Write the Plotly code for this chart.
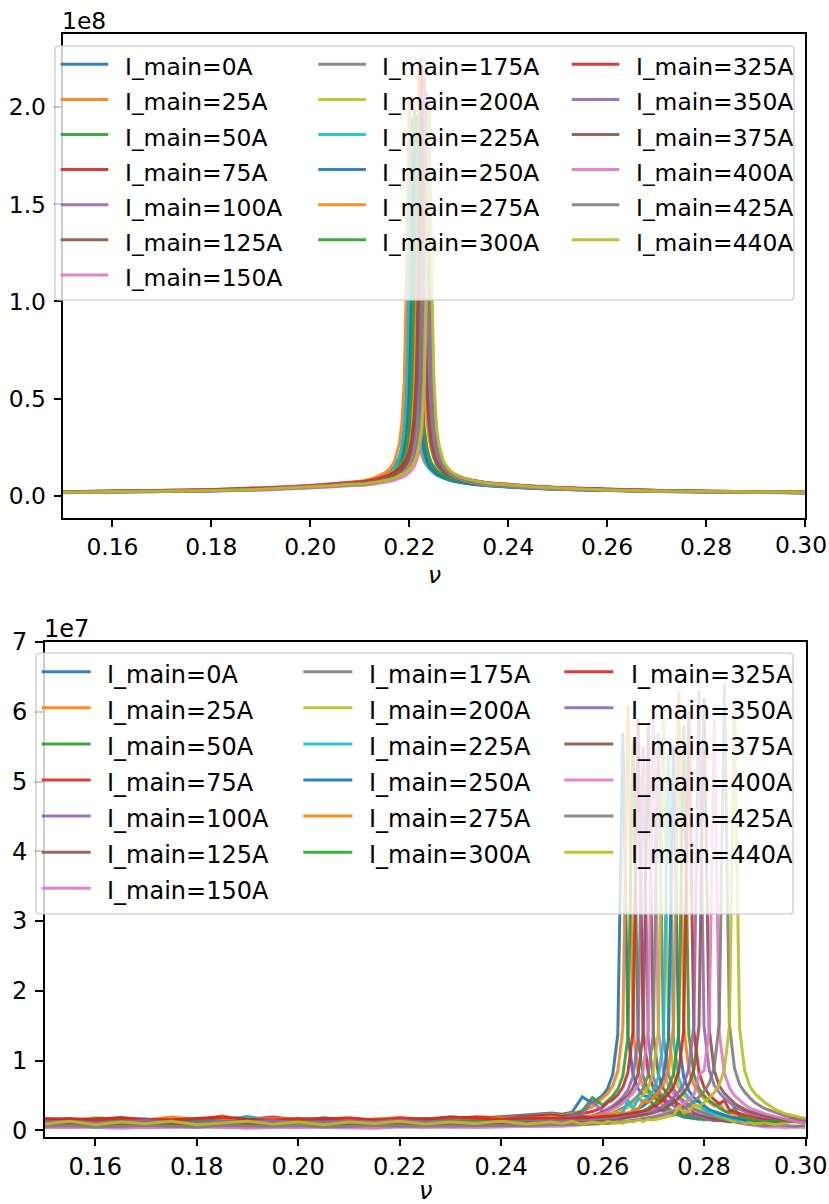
import plotly.graph_objects as go

# ---------------- data ----------------
CURRENTS = [0, 25, 50, 75, 100, 125, 150, 175, 200, 225, 250, 275, 300, 325, 350, 375, 400, 425, 440]
LABELS = [f"I_main={c}A" for c in CURRENTS]

# top panel: tune axis nu and spectrum amplitude (units of 1e6)
TOP_NU = [0.150, 0.160, 0.170, 0.180, 0.190, 0.195, 0.200, 0.204, 0.208, 0.211, 0.213, 0.215,
          0.216, 0.217, 0.218, 0.2185, 0.219, 0.2195, 0.2200, 0.2205, 0.2210, 0.2215, 0.2220,
          0.2225, 0.2230, 0.2235, 0.2240, 0.2245, 0.2250, 0.2255, 0.226, 0.227, 0.228, 0.229,
          0.231, 0.233, 0.236, 0.240, 0.245, 0.250, 0.260, 0.270, 0.280, 0.290, 0.300]

TOP_I0 = [1.7,1.9,2.2,2.6,3.3,3.9,4.4,5.1,6.0, 7.1,8.3,10.3,11.9,14.6,19.9,25,35,56, 112,194,112,56,35,25,19.9,16.5,14.6,13.1,11.9,11.0, 10.3,9.2,8.3,7.7,6.7,6.0,5.2,4.6,3.9,3.3, 2.7,2.2,1.9,1.7,1.6]
TOP_I25 = [1.8,2.1,2.4,2.8,3.5,4.1,4.7,5.4,6.5, 7.8,9.2,11.6,13.8,17.4,26.7,37,59,118, 205,118,59,37,26.7,21,17.4,15.4,13.8,12.6,11.6,10.9, 10.3,9.2,8.4,7.8,6.9,6.2,5.4,4.7,4.1,3.5, 2.9,2.4,2.1,1.8,1.6]
TOP_I50 = [1.8,2.0,2.3,2.7,3.4,3.9,4.5,5.2,6.1, 7.1,8.2,10.0,11.3,13.5,17,20.5,26,36, 58,115,200,115,58,36,26,20.5,17,15,13.5,12.3, 11.3,10.0,9.0,8.2,7.1,6.3,5.5,4.8,4.1,3.5, 2.8,2.3,2.0,1.8,1.6]
TOP_I75 = [1.9,2.1,2.4,2.9,3.5,4.2,4.8,5.5,6.4, 6.8,7.6,8.8,9.7,10.8,12.1,13.2,14.5,16.1, 18.3,22,28,39,62,124,215,124,62,39,28,22, 18.3,14.5,12.1,10.8,8.8,7.6,6.5,5.5,4.7,4.0, 3.1,2.5,2.2,1.9,1.7]
TOP_I100 = [1.8,2.0,2.3,2.8,3.4,4.0,4.6,5.3,6.1, 6.4,7.2,8.2,8.9,9.9,11.0,11.8,12.8,14.0, 15.6,17.7,21.3,27,37,60,120,208,120,60,37,27, 21.3,15.6,12.8,11.0,8.9,7.6,6.4,5.4,4.6,4.0, 3.0,2.4,2.1,1.9,1.7]
TOP_I125 = [1.7,1.9,2.2,2.6,3.1,3.7,4.2,4.9,5.7, 6.2,7.0,8.2,9.0,10.1,11.7,12.8,14.3,16.2, 19.5,24.7,34,55,109,190,109,55,34,24.7,19.5,16.2, 14.3,11.7,10.1,9.0,7.5,6.6,5.6,4.8,4.1,3.5, 2.7,2.2,1.9,1.7,1.5]
TOP_I150 = [2.0,2.3,2.6,3.1,3.8,4.5,5.1,5.9,6.9, 7.3,8.3,9.7,10.7,12.0,13.9,15.3,17.0,19.2, 23.2,29,41,66,130,226,130,66,41,29,23.2,19.2, 17.0,13.9,12.0,10.7,8.9,7.8,6.6,5.7,4.9,4.2, 3.2,2.6,2.3,2.0,1.8]
TOP_I175 = [1.7,1.8,2.1,2.5,3.1,3.6,4.2,4.8,5.6, 6.4,7.3,8.8,9.8,11.4,13.9,15.7,19.0,24, 33,54,106,185,106,54,33,24,19.0,15.7,13.9,12.5, 11.4,9.8,8.8,8.0,6.8,6.0,5.2,4.5,3.9,3.3, 2.6,2.1,1.8,1.7,1.5]
TOP_I200 = [1.8,2.0,2.3,2.7,3.3,3.9,4.5,5.1,6.0, 6.3,7.1,8.2,9.0,10.0,11.3,12.3,13.5,15, 17,20.5,26,36,58,115,200,115,58,36,26,20.5, 17,13.5,11.3,10.0,8.2,7.1,6.0,5.1,4.4,3.75, 2.9,2.4,2.0,1.8,1.6]
TOP_I225 = [1.7,1.9,2.2,2.5,3.2,3.7,4.3,4.9,5.8, 6.9,8.1,10.0,11.6,14.1,19.3,24.4,34,55, 108,188,108,55,34,24.4,19.3,16.0,14.1,12.7,11.6,10.6, 10.0,8.9,8.1,7.4,6.5,5.8,5.1,4.4,3.8,3.2, 2.6,2.2,1.9,1.7,1.5]
TOP_I250 = [1.6,1.8,2.1,2.4,3.1,3.5,4.1,4.7,5.5, 6.4,7.4,9.0,10.2,12.2,15.3,18.5,23.4,32, 52,104,180,104,52,32,23.4,18.5,15.3,13.5,12.2,11.1, 10.2,9.0,8.1,7.4,6.4,5.7,5.0,4.3,3.7,3.2, 2.5,2.1,1.8,1.6,1.4]
TOP_I275 = [2.0,2.2,2.6,3.0,3.7,4.4,5.1,5.8,6.8, 7.5,8.5,10.1,11.2,12.7,15.1,16.8,19.0,23.0, 29,40,65,129,224,129,65,40,29,23.0,19.0,16.8, 15.1,12.7,11.2,10.1,8.5,7.5,6.4,5.5,4.8,4.0, 3.1,2.6,2.2,2.0,1.8]
TOP_I300 = [1.8,2.0,2.3,2.6,3.3,3.9,4.4,5.1,6.0, 6.8,7.7,9.3,10.4,12.1,14.7,16.7,20.1,25.5, 35,57,113,196,113,57,35,25.5,20.1,16.7,14.7,13.2, 12.1,10.4,9.3,8.4,7.2,6.4,5.5,4.8,4.1,3.5, 2.7,2.3,2.0,1.8,1.6]
TOP_I325 = [2.0,2.2,2.6,3.0,3.7,4.4,5.0,5.8,6.8, 7.2,8.2,9.5,10.5,11.8,13.7,15.0,16.7,18.9, 22.8,28.9,40,64,128,222,128,64,40,28.9,22.8,18.9, 16.7,13.7,11.8,10.5,8.8,7.7,6.5,5.6,4.8,4.1, 3.2,2.6,2.2,2.0,1.8]
TOP_I350 = [1.9,2.1,2.4,2.8,3.5,4.1,4.7,5.4,6.3, 6.6,7.5,8.6,9.5,10.5,11.9,12.9,14.2,15.8, 17.9,21.5,27.3,38,61,121,210,121,61,38,27.3,21.5, 17.9,14.2,11.9,10.5,8.6,7.5,6.3,5.4,4.6,3.9, 3.0,2.5,2.1,1.9,1.7]
TOP_I375 = [1.8,2.0,2.3,2.7,3.3,3.9,4.5,5.1,6.0, 6.4,7.3,8.5,9.4,10.5,12.2,13.4,14.9,16.8, 20.3,25.7,36,57,114,198,114,57,36,25.7,20.3,16.8, 14.9,12.2,10.5,9.4,7.8,6.8,5.8,5.0,4.3,3.7, 2.8,2.3,2.0,1.8,1.6]
TOP_I400 = [1.5,1.7,1.9,2.3,2.8,3.3,3.9,4.4,5.0, 5.3,5.9,6.7,7.2,7.9,8.8,9.3,9.9,10.8, 11.9,13.2,15.0,18.0,22.9,32,51,101,176,101,51,32, 22.9,15.0,11.9,9.9,7.9,6.7,5.5,4.7,4.0,3.4, 2.6,2.1,1.8,1.6,1.4]
TOP_I425 = [1.6,1.8,2.1,2.5,3.1,3.6,4.2,4.8,5.5, 5.8,6.6,7.5,8.2,9.0,10.1,10.7,11.7,12.8, 14.3,16.2,19.5,24.7,34,55,109,190,109,55,34,24.7, 19.5,14.3,11.7,10.1,8.2,7.0,5.8,4.9,4.2,3.6, 2.8,2.3,2.0,1.7,1.5]
TOP_I440 = [1.7,1.9,2.2,2.6,3.2,3.8,4.4,5.0,5.8, 6.1,6.8,7.7,8.3,9.1,10.1,10.7,11.4,12.4, 13.6,15.2,17.2,20.7,26.3,36,59,116,202,116,59,36, 26.3,17.2,13.6,11.4,9.1,7.7,6.4,5.4,4.5,3.9, 2.9,2.4,2.1,1.8,1.7]

# bottom panel: tune axis nu and spectrum amplitude (units of 1e6)
BOT_NU = [0.150, 0.155, 0.160, 0.165, 0.170, 0.175, 0.180, 0.185, 0.190, 0.195, 0.200, 0.205,
          0.210, 0.215, 0.220, 0.225, 0.230, 0.235, 0.240, 0.245, 0.250, 0.252, 0.254, 0.256,
          0.258, 0.260, 0.261, 0.262, 0.263, 0.264, 0.265, 0.266, 0.267, 0.268, 0.269, 0.270,
          0.271, 0.272, 0.273, 0.274, 0.275, 0.276, 0.277, 0.278, 0.279, 0.280, 0.281, 0.282,
          0.283, 0.284, 0.285, 0.286, 0.287, 0.288, 0.289, 0.290, 0.292, 0.294, 0.296, 0.298, 0.300]

BOT_I0 = [1.3,1.6,1.2,1.5,1.4,1.7,1.3,1.5,1.6,1.2,1.4,1.8,1.5,1.4,1.6,1.5,1.9,1.7,2.0,2.2,2.5, 2.3,2.6,4.8,3.9,5.0, 6.0,8.0,13.7,57,13.6,8.0,6.0,5.0,4.8,3.6, 3.2,2.8,2.7,2.3,2.2,1.9,1.8,1.7,1.6,1.8, 1.5,1.6,1.4,1.7,1.5,1.3,1.6,1.4,1.5, 1.3,1.6,1.4,1.5,1.3,1.4]
BOT_I25 = [1.6,1.4,1.8,1.5,1.3,1.6,1.5,2.1,1.4,1.6,1.5,1.7,1.3,1.6,1.8,1.4,1.7,1.9,1.8,2.1,2.3, 2.1,2.4,2.8,3.4,4.6, 5.3,6.4,8.5,14.6,61,14.4,8.4,6.3,5.3,4.5, 4.8,3.4,3.0,2.7,2.4,2.6,2.1,2.0,1.8,1.8, 1.6,1.5,1.8,1.6,1.4,1.7,1.5,1.6,1.4, 1.5,1.7,1.4,1.6,1.5,1.3]
BOT_I50 = [1.4,1.3,1.7,1.5,1.6,1.2,1.4,1.5,1.9,1.3,1.5,1.4,1.6,1.3,1.5,1.7,1.4,1.6,1.8,1.9,2.1, 2.0,2.2,2.8,4.7,3.6, 4.2,4.9,5.9,7.8,13.4,56,13.2,7.7,5.8,4.9, 4.2,4.4,3.1,2.7,2.5,2.2,2.0,1.9,1.7,1.5, 1.7,1.4,1.6,1.5,1.3,1.6,1.4,1.5,1.7, 1.4,1.5,1.3,1.6,1.4,1.5]
BOT_I75 = [1.7,1.5,1.6,1.8,1.4,1.6,1.7,1.5,1.6,1.9,1.5,1.7,1.6,1.4,1.8,1.6,1.7,1.9,1.8,2.0,2.2, 2.0,2.1,2.4,2.7,3.3, 4.0,4.4,5.1,6.2,8.3,14.2,59,14.0,8.2,6.1, 5.1,4.4,3.8,4.5,2.9,2.6,2.4,2.2,2.0,1.9, 1.7,1.8,1.6,1.5,1.7,1.6,1.8,1.5,1.6, 1.7,1.5,1.6,1.4,1.7,1.6]
BOT_I100 = [1.2,1.4,1.3,1.1,1.5,1.3,1.2,1.4,1.3,1.5,1.2,1.3,1.4,1.6,1.3,1.2,1.4,1.5,1.6,1.7,1.9, 1.8,2.0,2.3,4.2,2.7, 3.1,3.5,4.1,4.8,5.8,7.7,13.2,55,13.0,7.6, 5.7,4.7,4.1,3.5,3.1,3.8,2.4,2.2,2.0,1.8, 1.6,1.4,1.5,1.3,1.4,1.2,1.5,1.3,1.4, 1.2,1.3,1.5,1.2,1.3,1.4]
BOT_I125 = [1.1,1.3,1.2,1.4,1.1,1.2,1.5,1.3,1.1,1.2,1.4,1.2,1.3,1.1,1.4,1.6,1.2,1.3,1.5,1.6,1.7, 1.6,1.8,1.9,2.1,2.6, 2.8,3.2,3.7,4.4,5.0,6.1,8.1,13.9,58,13.8, 8.0,6.0,5.0,4.3,3.7,3.2,3.6,2.5,2.3,2.1, 1.8,1.6,1.4,1.4,1.2,1.3,1.1,1.2,1.4, 1.2,1.1,1.3,1.2,1.4,1.2]
BOT_I150 = [0.5,0.4,0.6,0.5,0.4,0.5,0.6,0.4,0.5,0.5,0.4,0.6,0.5,0.4,0.6,1.5,0.5,0.6,0.7,0.8,0.9, 1.1,1.4,1.7,2.1,2.4, 2.7,3.0,3.4,3.9,4.6,5.3,6.4,8.5,14.6,61, 14.4,8.4,6.3,5.2,4.5,3.8,3.3,2.9,2.6,2.4, 2.2,2.0,1.8,1.6,1.4,1.2,1.0,0.9,0.8, 0.7,0.5,0.5,0.4,0.5,0.4]
BOT_I175 = [0.7,0.8,0.6,0.7,0.9,0.7,0.6,0.8,0.7,0.7,0.8,0.6,0.7,0.9,0.8,0.7,0.8,0.9,1.0,1.1,1.2, 1.1,1.3,1.6,1.9,2.1, 2.3,2.5,2.8,3.2,3.6,4.3,5.0,6.0,8.0,13.7, 57,13.5,7.9,5.9,4.9,4.2,3.6,3.1,2.8,2.5, 2.3,2.0,1.8,1.6,1.4,1.2,1.1,1.0,0.9, 0.8,0.7,0.8,0.7,0.6,0.7]
BOT_I200 = [1.1,0.8,1.3,0.9,1.2,0.8,1.1,1.3,0.9,1.2,0.8,1.1,1.3,0.9,1.2,1.0,1.3,1.1,1.4,1.3,1.5, 1.3,1.6,1.4,1.9,2.0, 2.2,2.4,2.6,2.9,3.3,3.8,4.4,5.1,6.2,8.3, 14.2,59,14.0,8.2,6.1,5.0,4.3,3.7,3.3,2.9, 2.6,2.3,2.1,1.8,1.5,1.3,1.4,1.0,1.2, 0.9,1.2,0.8,1.1,1.3,1.0]
BOT_I225 = [1.5,1.4,1.6,1.3,1.5,1.7,1.4,1.5,2.0,1.4,1.6,1.3,1.5,1.4,1.7,1.5,1.6,1.4,1.7,1.8,1.6, 1.7,1.6,1.8,1.9,2.0, 2.1,2.2,2.3,2.5,4.4,3.0,4.6,4.1,4.7,5.7, 7.6,13.0,54,12.8,7.5,5.6,4.7,4.0,4.2,3.0, 2.6,2.4,2.2,2.0,1.8,1.6,1.5,1.7,1.4, 1.6,1.5,1.4,1.6,1.5,1.7]
BOT_I250 = [1.4,1.2,1.5,1.3,1.6,1.4,1.3,1.5,1.4,1.2,1.5,1.6,1.3,1.4,1.5,1.3,1.6,1.5,1.4,1.7,1.6, 1.5,1.7,1.6,1.8,1.9, 2.0,2.1,2.2,2.3,2.5,2.7,3.1,3.5,4.1,4.8, 5.8,7.7,13.2,55,13.0,7.6,5.7,4.7,4.1,3.5, 3.0,2.7,2.4,2.2,2.0,1.9,1.7,1.5,1.6, 1.4,1.5,1.3,1.5,1.4,1.6]
BOT_I275 = [1.5,1.6,1.4,1.7,1.5,1.9,1.6,1.4,1.5,1.7,1.6,1.5,1.4,1.6,1.8,1.5,1.7,1.6,1.8,1.7,1.9, 1.8,1.7,1.9,2.0,2.1, 2.1,2.2,2.3,2.4,2.5,2.8,3.1,4.2,4.0,4.7, 5.5,6.6,8.8,15.1,63,14.9,8.7,6.5,5.4,4.6, 4.0,3.5,3.9,2.8,2.5,2.3,2.1,1.9,1.7, 1.7,1.5,1.6,1.4,1.6,1.5]
BOT_I300 = [1.3,1.4,1.2,1.5,1.3,1.4,1.6,1.3,1.2,1.4,1.3,1.5,1.2,1.4,1.3,1.5,1.4,1.3,1.5,1.4,1.6, 1.5,1.6,1.5,1.7,1.8, 1.8,1.9,2.0,2.1,2.2,2.3,2.6,2.8,3.2,3.7, 4.4,5.0,6.1,8.1,13.9,58,13.8,8.0,6.0,5.0, 4.3,3.7,3.2,2.8,2.5,3.2,2.1,1.9,1.7, 1.4,1.5,1.3,1.4,1.2,1.4]
BOT_I325 = [1.6,1.7,1.5,1.8,1.6,1.5,1.7,1.9,1.6,1.5,1.7,1.6,1.8,1.5,1.7,1.6,1.9,1.7,1.6,1.8,1.7, 1.8,1.7,1.9,1.8,2.0, 2.0,2.1,2.1,2.2,2.3,2.4,2.5,2.7,2.9,3.4, 3.8,4.5,5.2,6.3,8.4,14.4,60,14.2,8.3,6.2, 5.1,4.4,3.8,4.3,2.9,2.6,2.4,2.2,2.0, 1.9,1.7,1.7,1.5,1.8,1.6]
BOT_I350 = [1.2,1.3,1.1,1.2,1.4,1.2,1.1,1.3,1.2,1.4,1.1,1.2,1.3,1.2,1.5,1.2,1.3,1.1,1.3,1.2,1.4, 1.3,1.4,1.3,1.5,1.4, 1.5,1.6,1.7,1.8,1.9,2.0,2.1,2.3,2.5,2.8, 3.1,3.5,4.0,4.7,5.5,6.6,8.8,15.1,63,14.9, 8.7,6.5,5.4,4.6,4.0,3.4,3.0,2.7,2.5, 2.2,1.9,1.7,1.5,1.3,1.3]
BOT_I375 = [0.9,1.0,0.8,0.9,1.1,0.9,0.8,1.0,0.9,0.9,1.1,0.8,1.0,0.9,1.1,0.9,1.0,0.8,1.0,1.1,1.1, 1.0,1.2,1.1,1.2,1.3, 1.4,1.4,1.5,1.7,1.8,1.9,2.0,2.1,2.3,2.5, 2.7,3.0,3.5,4.0,4.7,5.4,6.5,8.7,14.9,62, 14.7,8.6,6.4,5.3,4.6,3.9,3.4,3.0,2.7, 2.5,2.1,1.8,1.5,1.3,1.1]
BOT_I400 = [0.4,0.5,0.4,0.3,0.5,0.4,0.4,0.5,0.3,0.4,0.5,0.4,0.4,0.3,0.5,0.4,0.5,0.4,0.5,0.6,0.6, 0.6,0.7,0.7,0.8,0.9, 1.0,1.0,1.1,1.2,1.3,1.4,1.5,1.7,1.8,2.0, 2.2,2.4,2.6,2.9,3.3,3.8,4.4,5.1,8.0,8.6, 14.2,59,14.0,8.2,6.1,5.0,4.3,3.7,3.2, 2.9,2.4,2.0,1.6,1.3,1.0]
BOT_I425 = [0.6,0.7,0.5,0.6,0.7,0.6,0.5,0.7,0.6,0.6,0.7,0.5,0.6,0.7,0.6,0.6,0.7,0.6,0.7,0.7,0.8, 0.8,0.8,0.9,0.9,1.0, 1.0,1.1,1.1,1.2,1.3,1.4,1.5,1.6,1.8,1.9, 2.0,2.2,2.4,2.6,2.8,3.1,3.6,4.1,4.8,5.6, 6.7,9.0,15.4,64,15.2,8.9,6.6,5.5,4.7, 4.0,3.1,2.6,2.1,1.8,1.5]
BOT_I440 = [0.9,1.3,0.8,1.2,1.0,1.3,0.8,1.1,1.3,0.9,1.2,0.8,1.2,1.0,1.3,0.9,1.2,1.0,1.3,0.9,1.2, 1.0,1.3,0.9,1.2,1.0, 1.3,1.1,1.2,1.0,1.4,1.2,1.5,1.3,1.6,1.5, 1.7,1.9,2.0,2.1,3.4,2.5,2.7,3.6,3.5,4.0, 4.7,5.4,6.5,8.7,14.9,62,14.7,8.6,6.4, 5.3,4.0,3.0,2.4,2.0,1.7]

TOP_SERIES = [TOP_I0, TOP_I25, TOP_I50, TOP_I75, TOP_I100, TOP_I125, TOP_I150, TOP_I175, TOP_I200,
              TOP_I225, TOP_I250, TOP_I275, TOP_I300, TOP_I325, TOP_I350, TOP_I375, TOP_I400,
              TOP_I425, TOP_I440]
BOT_SERIES = [BOT_I0, BOT_I25, BOT_I50, BOT_I75, BOT_I100, BOT_I125, BOT_I150, BOT_I175, BOT_I200,
              BOT_I225, BOT_I250, BOT_I275, BOT_I300, BOT_I325, BOT_I350, BOT_I375, BOT_I400,
              BOT_I425, BOT_I440]
UNIT = 1e6

X_TICKS = [0.16, 0.18, 0.20, 0.22, 0.24, 0.26, 0.28, 0.30]
X_TICKTEXT = ["0.16", "0.18", "0.20", "0.22", "0.24", "0.26", "0.28", "0.30"]
TOP_YTICKS = [0, 0.5e8, 1.0e8, 1.5e8, 2.0e8]
TOP_YTICKTEXT = ["0.0", "0.5", "1.0", "1.5", "2.0"]
BOT_YTICKS = [0, 1e7, 2e7, 3e7, 4e7, 5e7, 6e7, 7e7]
BOT_YTICKTEXT = ["0", "1", "2", "3", "4", "5", "6", "7"]

for i, s in enumerate(TOP_SERIES):
    assert len(s) == len(TOP_NU), ("top", i, len(s))
for i, s in enumerate(BOT_SERIES):
    assert len(s) == len(BOT_NU), ("bot", i, len(s))

# ---------------- style ----------------
TAB10 = ["#1f77b4", "#ff7f0e", "#2ca02c", "#d62728", "#9467bd",
         "#8c564b", "#e377c2", "#7f7f7f", "#bcbd22", "#17becf"]
W, H = 829, 1204
FONT = "DejaVu Sans"
FS_TOP = 23.4
FS_BOT = 24.0
LW = 3.0
ALPHA = 0.9


def px(x):
    return x / W


def py(y):
    return 1 - y / H


fig = go.Figure()
for i, lab in enumerate(LABELS):
    fig.add_trace(go.Scatter(x=TOP_NU, y=[v * UNIT for v in TOP_SERIES[i]], mode="lines",
                             name=lab, line=dict(color=TAB10[i % 10], width=LW), opacity=ALPHA,
                             showlegend=False, xaxis="x", yaxis="y"))
for i, lab in enumerate(LABELS):
    fig.add_trace(go.Scatter(x=BOT_NU, y=[v * UNIT for v in BOT_SERIES[i]], mode="lines",
                             name=lab, line=dict(color=TAB10[i % 10], width=LW), opacity=ALPHA,
                             showlegend=False, xaxis="x2", yaxis="y2"))


def axis_common(fs):
    return dict(showline=True, linecolor="black", linewidth=1.7, mirror=True,
                ticks="outside", ticklen=7.5, tickwidth=1.7, tickcolor="black",
                showgrid=False, zeroline=False, ticklabeloverflow="allow",
                tickfont=dict(family=FONT, size=fs, color="black"))


# the last x tick label sits at the page edge; it is drawn as a right-aligned text below
X_TICKTEXT_AXIS = X_TICKTEXT[:-1] + [""]

fig.update_layout(
    width=W, height=H, autosize=False,
    margin=dict(l=0, r=0, t=0, b=0, autoexpand=False),
    paper_bgcolor="white", plot_bgcolor="white",
    xaxis=dict(axis_common(FS_TOP), domain=[px(63), px(805)], anchor="y", range=[0.15, 0.30],
               tickvals=X_TICKS, ticktext=X_TICKTEXT_AXIS),
    yaxis=dict(axis_common(FS_TOP), domain=[py(517.5), py(34.3)], anchor="x",
               range=[-0.113e8, 2.376e8], tickvals=TOP_YTICKS, ticktext=TOP_YTICKTEXT,
               ticklabelstandoff=3),
    xaxis2=dict(axis_common(FS_BOT), domain=[px(44.5), px(805.5)], anchor="y2", range=[0.15, 0.30],
                tickvals=X_TICKS, ticktext=X_TICKTEXT_AXIS),
    yaxis2=dict(axis_common(FS_BOT), domain=[py(1137), py(642)], anchor="x2",
                range=[-0.095e7, 7.0e7], tickvals=BOT_YTICKS, ticktext=BOT_YTICKTEXT,
                ticklabelstandoff=3),
    showlegend=False,
)


def rounded_rect(x0, y0, x1, y1, r=4):
    def P(x, y):
        return f"{px(x):.5f},{py(y):.5f}"
    return (f"M {P(x0 + r, y0)} L {P(x1 - r, y0)} Q {P(x1, y0)} {P(x1, y0 + r)} "
            f"L {P(x1, y1 - r)} Q {P(x1, y1)} {P(x1 - r, y1)} L {P(x0 + r, y1)} "
            f"Q {P(x0, y1)} {P(x0, y1 - r)} L {P(x0, y0 + r)} Q {P(x0, y0)} {P(x0 + r, y0)} Z")


shapes = []
annotations = []


def add_legend(box, row0, row_dy, hx0, hlen, tx, fsize):
    shapes.append(dict(type="path", xref="paper", yref="paper", layer="above",
                       path=rounded_rect(*box),
                       fillcolor="rgba(255,255,255,0.8)",
                       line=dict(color="rgba(204,204,204,0.8)", width=1.7)))
    for i, lab in enumerate(LABELS):
        if i < 7:
            c, r = 0, i
        elif i < 13:
            c, r = 1, i - 7
        else:
            c, r = 2, i - 13
        y = row0 + r * row_dy
        shapes.append(dict(type="line", xref="paper", yref="paper", layer="above",
                           x0=px(hx0[c]), x1=px(hx0[c] + hlen), y0=py(y), y1=py(y),
                           line=dict(color=TAB10[i % 10], width=LW), opacity=ALPHA))
        annotations.append(dict(xref="paper", yref="paper", x=px(tx[c]), y=py(y + 3),
                                xanchor="left", yanchor="middle", showarrow=False,
                                borderpad=0, text=lab,
                                font=dict(family=FONT, size=fsize, color="black")))


add_legend((55, 46, 794, 300), 64.3, 35.1, [60.7, 318.3, 571.7], 47.6, [124, 380.7, 634.7], FS_TOP)
add_legend((36, 653, 793, 914), 671.7, 36.1, [41.7, 303.3, 564.3], 49.0, [106.3, 368, 629.7], FS_BOT)

# offset texts, last x tick labels and axis labels
annotations.append(dict(xref="paper", yref="paper", x=px(61), y=py(21), xanchor="left",
                        yanchor="middle", showarrow=False, borderpad=0, text="1e8",
                        font=dict(family=FONT, size=FS_TOP, color="black")))
annotations.append(dict(xref="paper", yref="paper", x=px(43), y=py(629), xanchor="left",
                        yanchor="middle", showarrow=False, borderpad=0, text="1e7",
                        font=dict(family=FONT, size=FS_BOT, color="black")))
annotations.append(dict(xref="paper", yref="paper", x=px(828), y=py(545), xanchor="right",
                        yanchor="middle", showarrow=False, borderpad=0, text=X_TICKTEXT[-1],
                        font=dict(family=FONT, size=FS_TOP, color="black")))
annotations.append(dict(xref="paper", yref="paper", x=px(828), y=py(1166), xanchor="right",
                        yanchor="middle", showarrow=False, borderpad=0, text=X_TICKTEXT[-1],
                        font=dict(family=FONT, size=FS_BOT, color="black")))
annotations.append(dict(xref="paper", yref="paper", x=px(434), y=py(575), xanchor="center",
                        yanchor="middle", showarrow=False, borderpad=0, text="<i>ν</i>",
                        font=dict(family=FONT, size=FS_TOP, color="black")))
annotations.append(dict(xref="paper", yref="paper", x=px(425), y=py(1191), xanchor="center",
                        yanchor="middle", showarrow=False, borderpad=0, text="<i>ν</i>",
                        font=dict(family=FONT, size=FS_BOT, color="black")))

fig.update_layout(shapes=shapes, annotations=annotations)

fig.write_html("out.html", config={"displayModeBar": False},
               post_script="document.body.style.margin='0px';")
